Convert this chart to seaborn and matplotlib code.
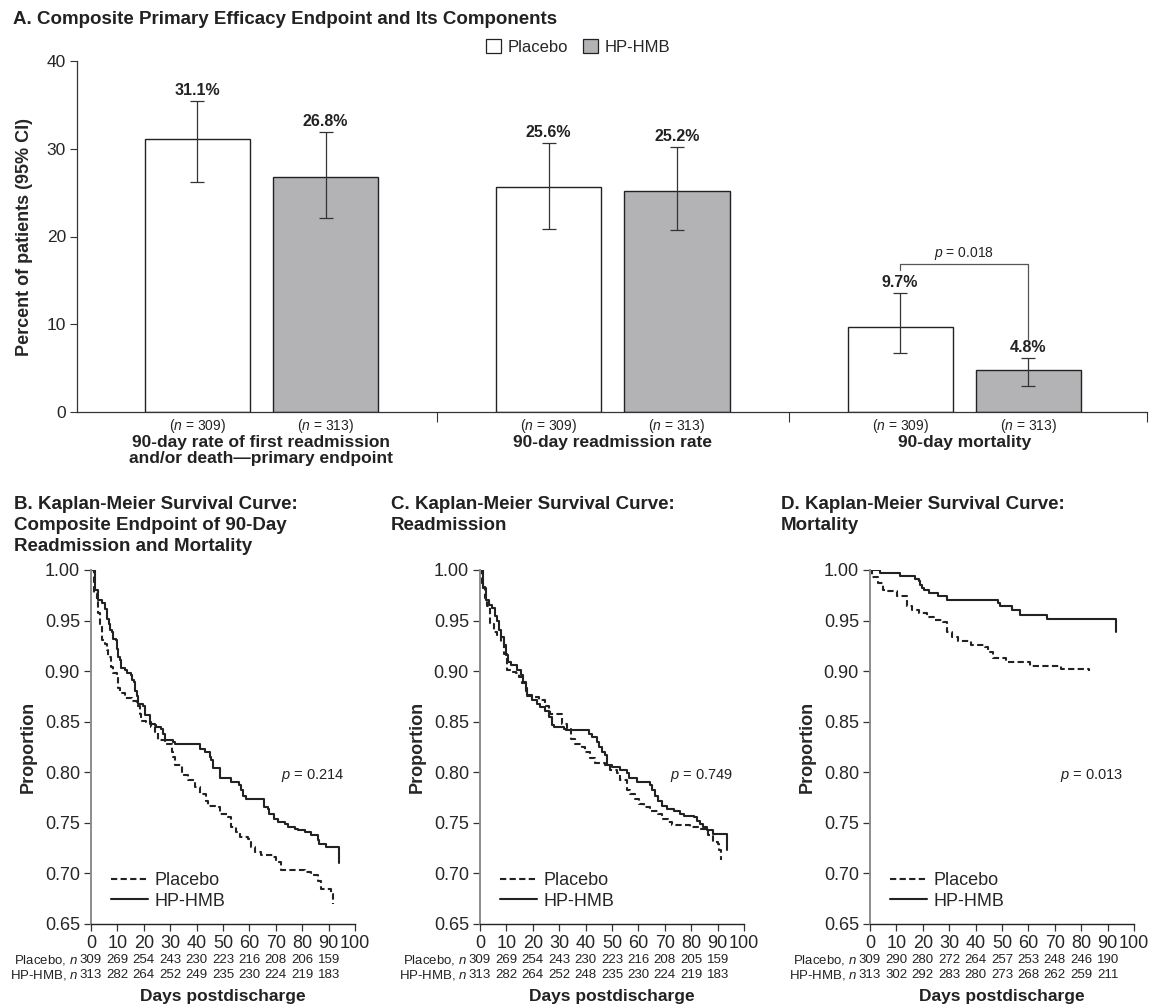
import numpy as np
import pandas as pd
import matplotlib
matplotlib.use('Agg')
import matplotlib.pyplot as plt
import matplotlib.transforms as mtransforms
from matplotlib.patches import Patch
from matplotlib.lines import Line2D
import seaborn as sns

# ---------------- data ----------------
# Panel A: bar chart
endpoints = ['Composite', 'Readmission', 'Mortality']
endpoint_labels = ['90-day rate of first readmission\nand/or death\u2014primary endpoint',
                   '90-day readmission rate', '90-day mortality']
groups = ['Placebo', 'HP-HMB']
placebo_pct = [31.1, 25.6, 9.7]
hmb_pct = [26.8, 25.2, 4.8]
placebo_ci_low = [26.2, 20.9, 6.7]
placebo_ci_high = [35.4, 30.6, 13.6]
hmb_ci_low = [22.1, 20.7, 3.0]
hmb_ci_high = [31.9, 30.2, 6.1]
n_placebo = 309
n_hmb = 313
p_mortality = '0.018'

# Panel B: composite endpoint KM
b_placebo_days = [0, 1.3, 2.1, 2.8, 3.4, 4.0, 5.3, 5.9, 6.5, 7.6, 8.4, 9.7, 10.3, 10.9, 12.8, 15.4, 17.3, 18.5,
                  19.1, 21.0, 22.9, 24.2, 25.4, 28.0, 30.5, 31.1, 31.7, 34.3, 36.8, 39.3, 41.2, 43.7, 44.3, 47.5,
                  48.7, 51.9, 53.1, 55.0, 56.3, 59.4, 60.7, 62.0, 64.5, 68.9, 70.2, 72.0, 80.9, 83.4, 85.9, 87.2,
                  90.9, 91.6]
b_placebo_surv = [1.000, 0.977, 0.970, 0.957, 0.946, 0.931, 0.927, 0.921, 0.914, 0.904, 0.898, 0.894, 0.883,
                  0.878, 0.873, 0.870, 0.866, 0.858, 0.851, 0.850, 0.845, 0.840, 0.832, 0.828, 0.820, 0.815,
                  0.807, 0.797, 0.792, 0.785, 0.779, 0.772, 0.767, 0.766, 0.759, 0.756, 0.746, 0.741, 0.736,
                  0.734, 0.726, 0.721, 0.718, 0.716, 0.711, 0.703, 0.701, 0.698, 0.693, 0.685, 0.680, 0.670]
b_hmb_days = [0, 1.5, 2.8, 4.3, 5.3, 5.9, 6.8, 7.2, 7.8, 8.4, 9.3, 9.9, 10.3, 10.9, 11.3, 12.8, 13.8, 15.1, 15.4,
              16.4, 16.6, 17.3, 17.9, 19.8, 20.4, 22.3, 24.2, 24.8, 26.4, 27.3, 28.0, 31.1, 31.7, 41.2, 43.3,
              45.0, 45.6, 46.2, 48.7, 53.1, 55.9, 56.9, 57.6, 58.8, 65.7, 67.0, 67.6, 69.5, 70.8, 73.3, 74.6,
              77.1, 78.3, 80.9, 83.4, 85.9, 86.5, 89.0, 94.1]
b_hmb_surv = [1.000, 0.980, 0.970, 0.967, 0.961, 0.952, 0.947, 0.941, 0.939, 0.932, 0.931, 0.922, 0.914, 0.911,
              0.903, 0.901, 0.898, 0.896, 0.891, 0.889, 0.880, 0.875, 0.868, 0.866, 0.857, 0.848, 0.847, 0.845,
              0.843, 0.838, 0.832, 0.830, 0.828, 0.823, 0.820, 0.815, 0.812, 0.804, 0.794, 0.790, 0.787, 0.782,
              0.777, 0.774, 0.766, 0.764, 0.759, 0.754, 0.751, 0.749, 0.746, 0.744, 0.743, 0.741, 0.738, 0.733,
              0.729, 0.726, 0.710]
b_placebo_risk = [309, 269, 254, 243, 230, 223, 216, 208, 206, 159]
b_hmb_risk = [313, 282, 264, 252, 249, 235, 230, 224, 219, 183]
b_p = '0.214'

# Panel C: readmission KM
c_placebo_days = [0, 0.9, 1.8, 2.8, 3.8, 5.3, 6.5, 7.8, 9.1, 10.1, 11.6, 13.5, 14.7, 16.0, 17.3, 17.9, 20.4,
                  22.3, 24.8, 26.1, 26.7, 31.1, 33.0, 34.3, 36.1, 38.7, 39.9, 41.8, 43.7, 47.5, 49.4, 51.9, 53.1,
                  55.7, 56.9, 58.8, 60.1, 62.0, 64.5, 67.6, 68.9, 71.4, 72.7, 79.6, 83.4, 85.9, 86.5, 88.4, 90.3,
                  90.7, 91.2]
c_placebo_surv = [1.000, 0.983, 0.972, 0.964, 0.947, 0.939, 0.936, 0.929, 0.917, 0.901, 0.899, 0.898, 0.894,
                  0.888, 0.880, 0.875, 0.874, 0.871, 0.866, 0.863, 0.858, 0.848, 0.843, 0.833, 0.828, 0.825,
                  0.820, 0.814, 0.809, 0.807, 0.802, 0.799, 0.792, 0.782, 0.779, 0.774, 0.769, 0.766, 0.762,
                  0.759, 0.754, 0.751, 0.748, 0.746, 0.744, 0.743, 0.738, 0.731, 0.729, 0.723, 0.713]
c_hmb_days = [0, 1.3, 2.1, 3.4, 4.7, 5.5, 6.3, 7.2, 8.1, 9.1, 9.7, 10.6, 11.6, 13.9, 15.4, 16.4, 17.3, 17.9, 19.8,
              21.7, 22.9, 24.8, 26.1, 27.3, 28.0, 31.7, 32.4, 41.2, 42.4, 44.3, 45.0, 46.2, 47.5, 48.1, 50.0,
              53.1, 55.7, 56.3, 59.4, 64.5, 65.1, 66.4, 67.6, 68.9, 70.8, 73.3, 75.8, 77.1, 80.9, 82.1, 83.4,
              84.6, 85.9, 88.4, 93.5]
c_hmb_surv = [1.000, 0.982, 0.970, 0.965, 0.962, 0.955, 0.950, 0.941, 0.934, 0.926, 0.916, 0.909, 0.906, 0.901,
              0.896, 0.889, 0.883, 0.876, 0.871, 0.868, 0.865, 0.861, 0.855, 0.847, 0.845, 0.843, 0.842, 0.838,
              0.835, 0.830, 0.825, 0.820, 0.817, 0.807, 0.805, 0.802, 0.799, 0.794, 0.790, 0.787, 0.782, 0.777,
              0.772, 0.767, 0.764, 0.762, 0.759, 0.757, 0.756, 0.752, 0.749, 0.746, 0.743, 0.739, 0.723]
c_placebo_risk = [309, 269, 254, 243, 230, 223, 216, 208, 205, 159]
c_hmb_risk = [313, 282, 264, 252, 248, 235, 230, 224, 219, 183]
c_p = '0.749'

# Panel D: mortality KM
d_placebo_days = [0, 0.6, 3.2, 5.1, 6.3, 10.1, 13.9, 15.8, 18.4, 21.5, 24.7, 27.8, 29.0, 30.9, 33.4, 38.4, 43.5,
                  44.7, 46.6, 51.7, 60.5, 72.4, 83.1]
d_placebo_surv = [1.000, 0.993, 0.987, 0.980, 0.979, 0.974, 0.964, 0.960, 0.957, 0.954, 0.951, 0.949, 0.939,
                  0.934, 0.930, 0.926, 0.924, 0.919, 0.913, 0.909, 0.905, 0.902, 0.900]
d_hmb_days = [0, 3.8, 11.4, 17.1, 18.4, 19.0, 19.6, 20.3, 22.2, 25.9, 29.1, 48.5, 49.4, 53.8, 57.0, 67.1, 93.0]
d_hmb_surv = [1.000, 0.997, 0.994, 0.991, 0.989, 0.985, 0.982, 0.980, 0.977, 0.974, 0.970, 0.967, 0.964, 0.960,
              0.956, 0.952, 0.939]
d_placebo_risk = [309, 290, 280, 272, 264, 257, 253, 248, 246, 190]
d_hmb_risk = [313, 302, 292, 283, 280, 273, 268, 262, 259, 211]
d_p = '0.013'

risk_days = [0, 10, 20, 30, 40, 50, 60, 70, 80, 90]

# ---------------- style ----------------
sns.set_style('ticks')
plt.rcParams['font.family'] = ['Liberation Sans', 'DejaVu Sans']
plt.rcParams['mathtext.fontset'] = 'custom'
plt.rcParams['mathtext.it'] = 'Liberation Sans:italic'
plt.rcParams['mathtext.rm'] = 'Liberation Sans'
NARROW = ['Liberation Sans Narrow', 'Liberation Sans', 'DejaVu Sans']
INK = '#222222'
GRAY_BAR = '#b2b3b6'

W, H = 1150, 1007
fig = plt.figure(figsize=(W / 100, H / 100), dpi=100)


def px_axes(x0, y0, x1, y1):
    return fig.add_axes([x0 / W, 1 - y1 / H, (x1 - x0) / W, (y1 - y0) / H])


# ---------------- Panel A ----------------
axA = px_axes(77, 61, 1147, 412)
df_bars = pd.DataFrame({
    'endpoint': endpoints * 2,
    'group': [groups[0]] * 3 + [groups[1]] * 3,
    'pct': placebo_pct + hmb_pct,
})
sns.barplot(data=df_bars, x='endpoint', y='pct', hue='group', order=endpoints, hue_order=groups,
            palette={'Placebo': 'white', 'HP-HMB': GRAY_BAR}, edgecolor=INK, linewidth=1.0,
            width=0.73, gap=0.18, errorbar=None, legend=False, ax=axA)
axA.set_ylim(0, 40)
axA.set_yticks([0, 10, 20, 30, 40])
axA.set_xlim(-0.525, 2.52)
axA.set_xticks([0.5, 1.5, 2.52])
axA.set_xticklabels([])
axA.set_xlabel('')
axA.tick_params(axis='y', direction='out', length=5, width=0.8, color='#333333', labelsize=12.5, pad=3)
axA.tick_params(axis='x', direction='out', length=7, width=0.8, color='#333333')
for s in ['top', 'right']:
    axA.spines[s].set_visible(False)
for s in ['left', 'bottom']:
    axA.spines[s].set_color('#333333')
    axA.spines[s].set_linewidth(0.9)
axA.set_ylabel('Percent of patients (95% CI)', fontweight='bold', fontsize=13)
axA.yaxis.set_label_coords(-0.041, 0.5)

xform = axA.get_xaxis_transform()
centers = {}
for cont, vals, lows, highs, nval, g in zip(axA.containers,
                                           [placebo_pct, hmb_pct],
                                           [placebo_ci_low, hmb_ci_low],
                                           [placebo_ci_high, hmb_ci_high],
                                           [n_placebo, n_hmb], groups):
    for i, bar in enumerate(cont):
        cx = bar.get_x() + bar.get_width() / 2
        centers[(g, i)] = cx
        v = vals[i]
        axA.errorbar(cx, v, yerr=[[v - lows[i]], [highs[i] - v]], fmt='none',
                     ecolor='#333333', elinewidth=0.9, capsize=5, capthick=0.9)
        axA.text(cx, highs[i] + 0.35, f'{v:.1f}%', ha='center', va='bottom',
                 fontsize=11.5, fontweight='bold', family=NARROW, color=INK)
        axA.text(cx, -0.014, f'($n$ = {nval})', transform=xform, ha='center', va='top',
                 fontsize=10, family=NARROW, color=INK)

for i, lab in enumerate(endpoint_labels):
    axA.text(i, -0.066, lab, transform=xform, ha='center', va='top', fontsize=12.5,
             fontweight='bold', family=NARROW, color=INK, linespacing=1.1)

# significance bracket for mortality
xl, xr = centers[('Placebo', 2)], centers[('HP-HMB', 2)]
axA.plot([xl, xl, xr, xr], [16.2, 16.9, 16.9, 8.3], color='#555555', lw=0.9)
axA.text((xl + xr) / 2, 17.1, f'$p$ = {p_mortality}', ha='center', va='bottom', fontsize=10,
         family=NARROW, color=INK)

fig.text(13 / W, 1 - 11 / H, 'A. Composite Primary Efficacy Endpoint and Its Components',
         ha='left', va='top', fontsize=13.5, fontweight='bold', color=INK)
fig.legend(handles=[Patch(facecolor='white', edgecolor=INK, lw=0.9, label='Placebo'),
                    Patch(facecolor=GRAY_BAR, edgecolor=INK, lw=0.9, label='HP-HMB')],
           loc='center', bbox_to_anchor=(578 / W, 1 - 47 / H), ncol=2, frameon=False,
           handlelength=0.9, handleheight=0.9, handletextpad=0.4, columnspacing=0.9, fontsize=12)

# ---------------- KM panels ----------------
panels = [
    dict(x0=91, title='B. Kaplan-Meier Survival Curve:\nComposite Endpoint of 90-Day\nReadmission and Mortality',
         tx=14, pd_=b_placebo_days, ps=b_placebo_surv, hd=b_hmb_days, hs=b_hmb_surv,
         pr=b_placebo_risk, hr=b_hmb_risk, p=b_p),
    dict(x0=480, title='C. Kaplan-Meier Survival Curve:\nReadmission',
         tx=391, pd_=c_placebo_days, ps=c_placebo_surv, hd=c_hmb_days, hs=c_hmb_surv,
         pr=c_placebo_risk, hr=c_hmb_risk, p=c_p),
    dict(x0=870, title='D. Kaplan-Meier Survival Curve:\nMortality',
         tx=781, pd_=d_placebo_days, ps=d_placebo_surv, hd=d_hmb_days, hs=d_hmb_surv,
         pr=d_placebo_risk, hr=d_hmb_risk, p=d_p),
]
DASH = (3.0, 1.6)

for P in panels:
    ax = px_axes(P['x0'], 570, P['x0'] + 264, 924)
    df = pd.DataFrame({
        'day': P['pd_'] + P['hd'],
        'surv': P['ps'] + P['hs'],
        'group': ['Placebo'] * len(P['pd_']) + ['HP-HMB'] * len(P['hd']),
    })
    sns.lineplot(data=df, x='day', y='surv', hue='group', style='group',
                 palette={'Placebo': INK, 'HP-HMB': INK},
                 dashes={'Placebo': DASH, 'HP-HMB': ''},
                 drawstyle='steps-post', estimator=None, legend=False, lw=1.5, ax=ax)
    ax.set_xlim(0, 100)
    ax.set_ylim(0.65, 1.0)
    ax.set_xticks(np.arange(0, 101, 10))
    ax.set_yticks(np.arange(0.65, 1.001, 0.05))
    ax.set_yticklabels([f'{t:.2f}' for t in np.arange(0.65, 1.001, 0.05)])
    ax.tick_params(axis='both', direction='out', length=5, width=0.9, color='#333333',
                   labelsize=13, pad=3)
    for s in ['top', 'right']:
        ax.spines[s].set_visible(False)
    ax.spines['left'].set_color('#8c8c8c')
    ax.spines['left'].set_linewidth(1.4)
    ax.spines['bottom'].set_color(INK)
    ax.spines['bottom'].set_linewidth(1.0)
    ax.set_xlabel('')
    ax.set_ylabel('Proportion', fontweight='bold', fontsize=13)
    ax.yaxis.set_label_coords(-0.205, 0.5)

    ax.text(72, 0.797, f'$p$ = {P["p"]}', ha='left', va='center', fontsize=10.5, family=NARROW, color=INK)

    ax.legend(handles=[Line2D([], [], color=INK, lw=1.5, dashes=DASH, label='Placebo'),
                       Line2D([], [], color=INK, lw=1.5, label='HP-HMB')],
              loc='lower left', bbox_to_anchor=(0.05, 0.02), borderaxespad=0, frameon=False,
              handlelength=2.0, handletextpad=0.4, labelspacing=0.2, fontsize=13)

    tr = mtransforms.blended_transform_factory(ax.transData, ax.transAxes)
    for row_y, label, vals in [(-0.102, 'Placebo, $n$', P['pr']), (-0.144, 'HP-HMB, $n$', P['hr'])]:
        ax.text(-4.8, row_y, label, transform=tr, ha='right', va='center', fontsize=9.5,
                family=NARROW, color=INK)
        for d, v in zip(risk_days, vals):
            ax.text(d, row_y, str(v), transform=tr, ha='center', va='center', fontsize=9.5,
                    family=NARROW, color=INK)
    ax.text(50, -0.206, 'Days postdischarge', transform=tr, ha='center', va='center',
            fontsize=12.5, fontweight='bold', color=INK)

    fig.text(P['tx'] / W, 1 - 496 / H, P['title'], ha='left', va='top', fontsize=13.5,
             fontweight='bold', color=INK, linespacing=1.32)

fig.savefig('out.png', dpi=100)
